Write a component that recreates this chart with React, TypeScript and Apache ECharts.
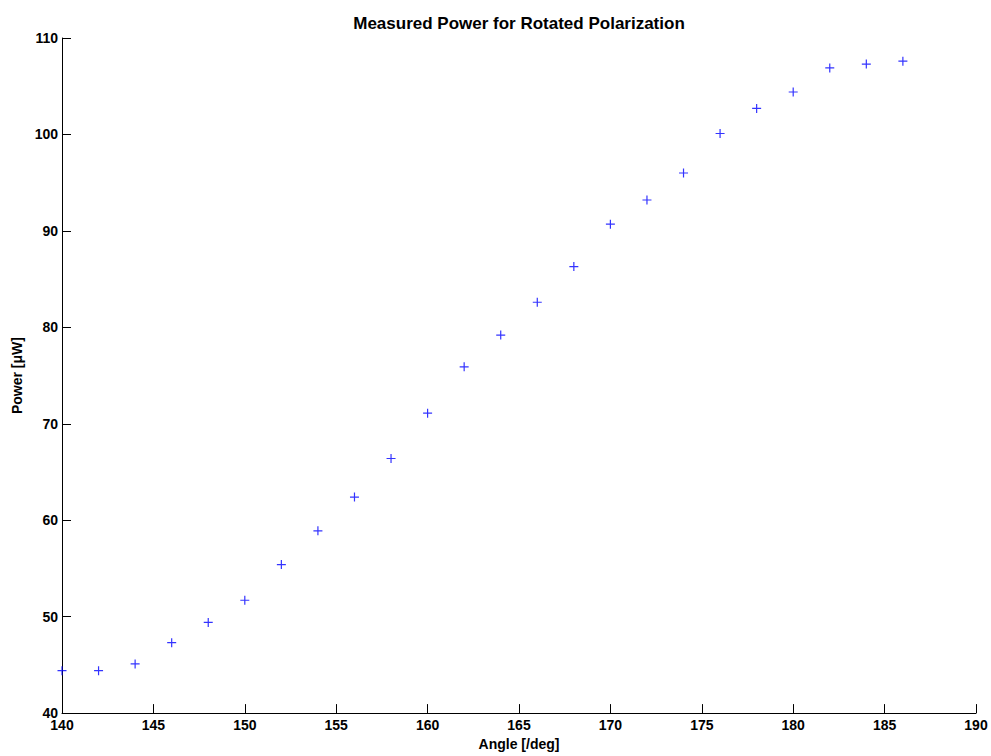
import React, { useEffect, useRef } from "react";
import * as echarts from "echarts";

const angles = [140, 142, 144, 146, 148, 150, 152, 154, 156, 158, 160, 162, 164, 166, 168, 170, 172, 174, 176, 178, 180, 182, 184, 186];
const power = [44.4, 44.4, 45.1, 47.3, 49.4, 51.7, 55.4, 58.9, 62.4, 66.4, 71.1, 75.9, 79.2, 82.6, 86.3, 90.7, 93.2, 96.0, 100.1, 102.7, 104.4, 106.9, 107.3, 107.6];

const titleText = "Measured Power for Rotated Polarization";
const xName = "Angle [/deg]";
const yName = "Power [\u03bcW]";

export default function App() {
  const ref = useRef<HTMLDivElement>(null);
  useEffect(() => {
    document.body.style.margin = "0";
    const chart = echarts.init(ref.current!, null, { renderer: "svg" });
    const font = "Liberation Sans, Arial, sans-serif";
    chart.setOption({
      animation: false,
      backgroundColor: "#ffffff",
      title: {
        text: titleText,
        left: 514,
        textAlign: "center",
        top: 10,
        textStyle: { fontFamily: font, fontSize: 17, fontWeight: "bold", color: "#000" },
      },
      grid: { left: 62, right: 15, top: 38, bottom: 40, containLabel: false },
      xAxis: {
        type: "value",
        min: 140,
        max: 190,
        interval: 5,
        name: xName,
        nameLocation: "middle",
        nameGap: 23,
        nameTextStyle: { fontFamily: font, fontSize: 14, fontWeight: "bold", color: "#000" },
        axisLine: { show: true, onZero: false, lineStyle: { color: "#000", width: 1 } },
        axisTick: { show: true, inside: true, length: 9, lineStyle: { color: "#000" } },
        axisLabel: { margin: 5, fontFamily: font, fontSize: 14, fontWeight: "bold", color: "#000" },
        splitLine: { show: false },
      },
      yAxis: {
        type: "value",
        min: 40,
        max: 110,
        interval: 10,
        name: yName,
        nameLocation: "middle",
        nameGap: 37,
        nameTextStyle: { fontFamily: font, fontSize: 14, fontWeight: "bold", color: "#000" },
        axisLine: { show: true, onZero: false, lineStyle: { color: "#000", width: 1 } },
        axisTick: { show: true, inside: true, length: 9, lineStyle: { color: "#000" } },
        axisLabel: { margin: 4, fontFamily: font, fontSize: 14, fontWeight: "bold", color: "#000" },
        splitLine: { show: false },
      },
      series: [
        {
          type: "scatter",
          data: angles.map((a, i) => [a, power[i]]),
          symbol: "path://M0,5L10,5M5,0L5,10",
          symbolSize: 9,
          itemStyle: { color: "transparent", borderColor: "#0000ff", borderWidth: 1.2 },
          emphasis: { disabled: true },
        },
      ],
    });
    return () => chart.dispose();
  }, []);
  return <div ref={ref} style={{ width: 991, height: 756 }} />;
}
